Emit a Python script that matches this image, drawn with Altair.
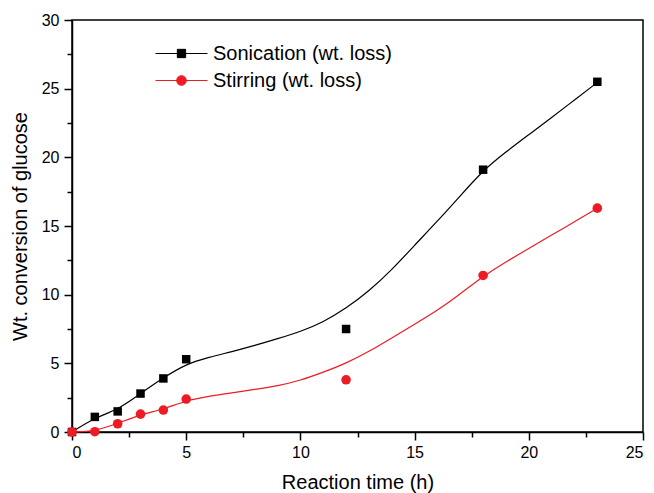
import altair as alt
import pandas as pd

# Smoothed curves
curve_x = [0, 1, 2, 3, 4, 5, 6, 7, 8, 9, 10, 11, 12, 13, 14, 15, 16, 17, 18, 19, 20, 21, 22, 23]
soni_curve = [0, 1.05, 1.6, 2.8, 3.95, 4.95, 5.45, 5.85, 6.3, 6.8, 7.3, 8.0, 9.0, 10.25, 11.8,
              13.6, 15.35, 17.2, 19.05, 20.4, 21.65, 22.9, 24.18, 25.45]
stir_curve = [0, 0.05, 0.62, 1.28, 1.65, 2.3, 2.6, 2.85, 3.1, 3.35, 3.75, 4.35, 5.0, 5.85, 6.85,
              7.85, 8.85, 10.05, 11.35, 12.4, 13.35, 14.35, 15.3, 16.3]

# Measured points
time_h = [0, 1, 2, 3, 4, 5, 12, 18, 23]
soni_pts = [0, 1.1, 1.5, 2.8, 3.9, 5.3, 7.5, 19.1, 25.5]
stir_pts = [0, 0.02, 0.6, 1.3, 1.6, 2.4, 3.8, 11.4, 16.3]

series_names = ["Sonication (wt. loss)", "Stirring (wt. loss)"]
colors = ["#000000", "#ed1c24"]

x_major = [0, 5, 10, 15, 20, 25]
x_minor = [2.5, 7.5, 12.5, 17.5, 22.5]
y_major = [0, 5, 10, 15, 20, 25, 30]
y_minor = [2.5, 7.5, 12.5, 17.5, 22.5, 27.5]

curve_df = pd.DataFrame({"t": curve_x, "soni": soni_curve, "stir": stir_curve})
pts_df = pd.DataFrame({"t": time_h, "soni": soni_pts, "stir": stir_pts})
legend_df = pd.DataFrame({"series": series_names})

FONT = "Liberation Sans"
xs = alt.Scale(domain=[0, 25], nice=False)
ys = alt.Scale(domain=[0, 30], nice=False)

ax_common = dict(domainColor="black", domainWidth=1.5, tickColor="black", tickWidth=1.5,
                 labelColor="black", labelFont=FONT, labelFontSize=16, titleFont=FONT,
                 titleFontSize=20, titleColor="black", titleFontWeight="normal", grid=False)

x_major_axis = alt.Axis(values=x_major, title="Reaction time (h)", tickSize=8, labelPadding=4,
                        titlePadding=12, orient="bottom", **ax_common)
y_major_axis = alt.Axis(values=y_major, title="Wt. conversion of glucose", tickSize=8,
                        labelPadding=5, titlePadding=11, orient="left", **ax_common)
x_minor_axis = alt.Axis(values=x_minor, title=None, labels=False, domain=False, tickSize=5,
                        tickColor="black", tickWidth=1.5, orient="bottom", grid=False)
y_minor_axis = alt.Axis(values=y_minor, title=None, labels=False, domain=False, tickSize=5,
                        tickColor="black", tickWidth=1.5, orient="left", grid=False)

soni_line = alt.Chart(curve_df).mark_line(interpolate="basis", color=colors[0], strokeWidth=1.2).encode(
    x=alt.X("t:Q", scale=xs, axis=x_minor_axis),
    y=alt.Y("soni:Q", scale=ys, axis=y_minor_axis),
)
stir_line = alt.Chart(curve_df).mark_line(interpolate="basis", color=colors[1], strokeWidth=1.2).encode(
    x=alt.X("t:Q", scale=xs, axis=None),
    y=alt.Y("stir:Q", scale=ys, axis=None),
)
soni_points = alt.Chart(pts_df).mark_point(shape="square", filled=True, size=72, color=colors[0], opacity=1).encode(
    x=alt.X("t:Q", scale=xs, axis=x_major_axis),
    y=alt.Y("soni:Q", scale=ys, axis=y_major_axis),
)
stir_points = alt.Chart(pts_df).mark_point(shape="circle", filled=True, size=92, color=colors[1], opacity=1).encode(
    x=alt.X("t:Q", scale=xs, axis=None),
    y=alt.Y("stir:Q", scale=ys, axis=None),
)

sq_path = "M-1,0H1M-0.16,-0.16H0.16V0.16H-0.16Z"
ci_path = "M-1,0H1M-0.185,0A0.185,0.185,0,1,1,0.185,0A0.185,0.185,0,1,1,-0.185,0Z"

leg = alt.Legend(orient="none", legendX=83, legendY=24, title=None, symbolSize=2704,
                 symbolStrokeWidth=1, labelFontSize=20, labelFont=FONT, labelColor="black",
                 labelOffset=5, rowPadding=6, clipHeight=19, labelLimit=400)

legend_layer = alt.Chart(legend_df).mark_point(filled=True, opacity=1).encode(
    shape=alt.Shape("series:N", scale=alt.Scale(domain=series_names, range=[sq_path, ci_path]), legend=leg),
    fill=alt.Fill("series:N", scale=alt.Scale(domain=series_names, range=colors), legend=leg),
    stroke=alt.Stroke("series:N", scale=alt.Scale(domain=series_names, range=colors), legend=leg),
).transform_filter("false")

chart = alt.layer(soni_line, stir_line, soni_points, stir_points, legend_layer).resolve_axis(
    x="independent", y="independent"
).properties(
    width=571, height=412,
    padding={"left": 64, "top": 12, "right": 3, "bottom": 70},
    autosize=alt.AutoSizeParams(type="none"),
    background="white",
).configure_view(stroke="black", strokeWidth=1.5)

chart.save("out.html", embed_options={"renderer": "svg", "actions": False})
